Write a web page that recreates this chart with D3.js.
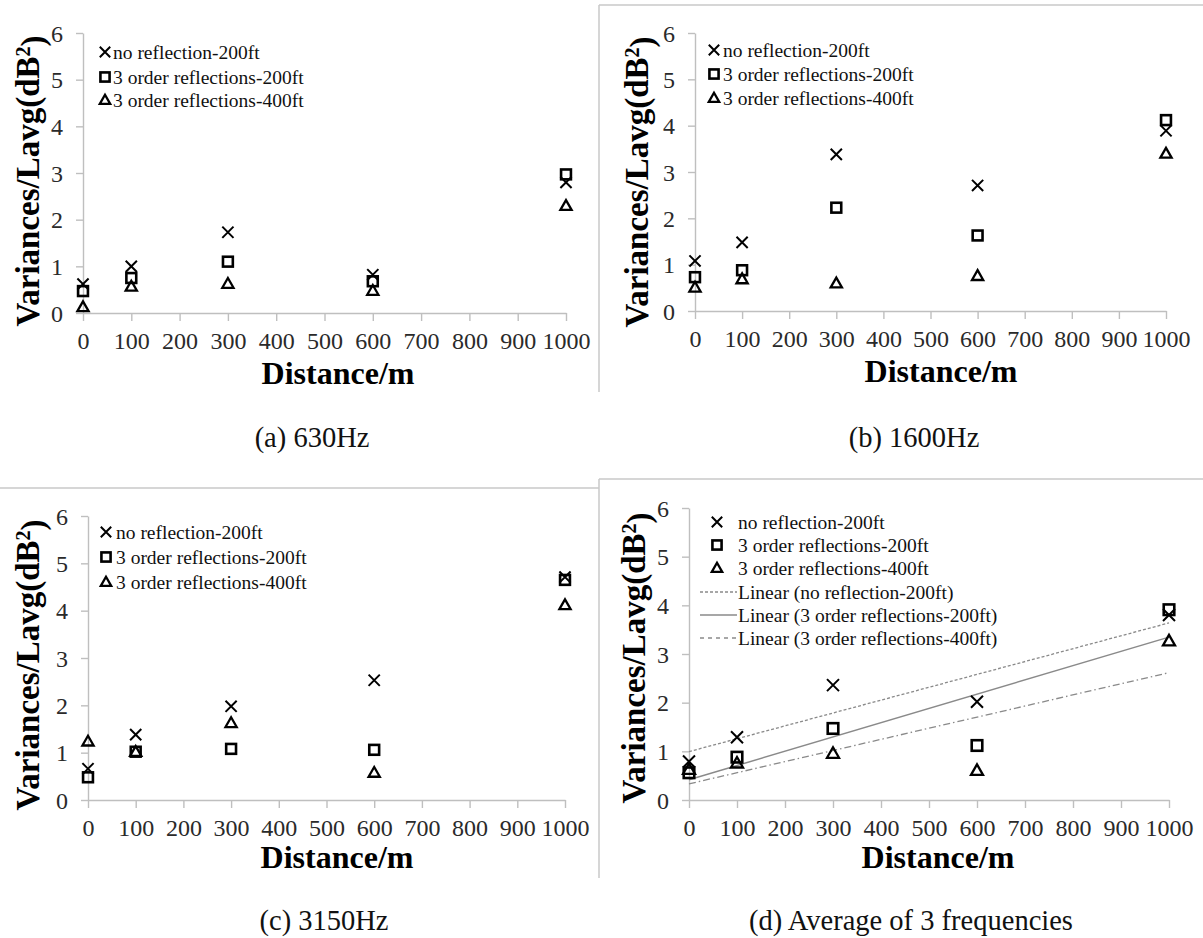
<!DOCTYPE html>
<html>
<head>
<meta charset="utf-8">
<script src="https://cdn.jsdelivr.net/npm/d3@7"></script>
<style>
  html, body { margin: 0; padding: 0; background: #fff; }
  svg { display: block; }
  text { font-family: "Liberation Serif", "Times New Roman", serif; }
</style>
</head>
<body>
<svg id="chart" width="1203" height="938"></svg>
<script>
// ---------------- DATA ----------------
const distances = [0, 100, 300, 600, 1000];
const xTickValues = [0, 100, 200, 300, 400, 500, 600, 700, 800, 900, 1000];
const yTickValues = [0, 1, 2, 3, 4, 5, 6];
const seriesNames = ["no reflection-200ft", "3 order reflections-200ft", "3 order reflections-400ft"];
const trendNames = ["Linear (no reflection-200ft)", "Linear (3 order reflections-200ft)", "Linear (3 order reflections-400ft)"];
const captions = ["(a) 630Hz", "(b) 1600Hz", "(c) 3150Hz", "(d) Average of 3 frequencies"];
const xTitle = "Distance/m";

// 630 Hz
const noRefl630   = [0.62, 1.00, 1.73, 0.82, 2.80];
const refl200_630 = [0.47, 0.75, 1.10, 0.68, 2.97];
const refl400_630 = [0.13, 0.57, 0.63, 0.48, 2.30];
// 1600 Hz
const noRefl1600   = [1.08, 1.48, 3.38, 2.71, 3.89];
const refl200_1600 = [0.73, 0.88, 2.23, 1.63, 4.12];
const refl400_1600 = [0.51, 0.69, 0.60, 0.76, 3.40];
// 3150 Hz
const noRefl3150   = [0.66, 1.38, 1.98, 2.53, 4.71];
const refl200_3150 = [0.48, 1.02, 1.08, 1.06, 4.65];
const refl400_3150 = [1.24, 1.02, 1.63, 0.58, 4.12];
// Average of 3 frequencies
const noReflAvg   = [0.79, 1.29, 2.36, 2.02, 3.80];
const refl200Avg  = [0.56, 0.88, 1.47, 1.12, 3.91];
const refl400Avg  = [0.63, 0.76, 0.96, 0.61, 3.27];

// ---------------- LAYOUT ----------------
const panels = [
  { series: [noRefl630, refl200_630, refl400_630], trend: false,
    x0: 83, x1: 566, yb: 313, yt: 33,
    leg: { sx: 105, tx: 113, ys: [52, 77, 100] },
    yT: { x: 27, y: 181 }, xT: { x: 338, y: 384 }, cap: { x: 312, y: 447 } },
  { series: [noRefl1600, refl200_1600, refl400_1600], trend: false,
    x0: 695, x1: 1166, yb: 311, yt: 33,
    leg: { sx: 714, tx: 723, ys: [50, 74, 98] },
    yT: { x: 636, y: 182 }, xT: { x: 941, y: 382 }, cap: { x: 914, y: 447 } },
  { series: [noRefl3150, refl200_3150, refl400_3150], trend: false,
    x0: 88, x1: 565, yb: 800, yt: 516,
    leg: { sx: 106, tx: 116, ys: [532, 557, 582] },
    yT: { x: 27, y: 665 }, xT: { x: 337, y: 868 }, cap: { x: 324, y: 930 } },
  { series: [noReflAvg, refl200Avg, refl400Avg], trend: true,
    x0: 689, x1: 1169, yb: 800, yt: 508,
    leg: { sx: 717, tx: 738, ys: [522, 545, 568, 592, 615, 638], lx0: 700, lx1: 737 },
    yT: { x: 633, y: 658 }, xT: { x: 938, y: 868 }, cap: { x: 911, y: 930 } }
];

const AXIS = "#bfbfbf";
const BORDER = "#c8c8c8";
const TREND = "#8a8a8a";
const trendDash = ["3,2", null, "7,3,1.5,3"];

const svg = d3.select("#chart");

// Panel borders
const borders = [
  [599, 5, 1203, 5], [599, 5, 599, 392],
  [0, 488, 599, 488], [599, 479, 1203, 479], [599, 479, 599, 878]
];
svg.append("g").selectAll("line").data(borders).join("line")
  .attr("x1", d => d[0]).attr("y1", d => d[1]).attr("x2", d => d[2]).attr("y2", d => d[3])
  .attr("stroke", BORDER).attr("stroke-width", 1.5);

function drawMarker(g, type, x, y, s) {
  if (type === 0) {
    g.append("path")
      .attr("d", `M${x - s},${y - s}L${x + s},${y + s}M${x - s},${y + s}L${x + s},${y - s}`)
      .attr("stroke", "#000").attr("stroke-width", 2).attr("fill", "none");
  } else if (type === 1) {
    const h = s * 0.88;
    g.append("rect").attr("x", x - h).attr("y", y - h).attr("width", 2 * h).attr("height", 2 * h)
      .attr("stroke", "#000").attr("stroke-width", 2.6).attr("fill", "none");
  } else {
    const h = s;
    g.append("path")
      .attr("d", `M${x},${y - h}L${x + h},${y + h * 0.75}L${x - h},${y + h * 0.75}Z`)
      .attr("stroke", "#000").attr("stroke-width", 2.3).attr("fill", "none").attr("stroke-linejoin", "miter");
  }
}

function linFit(xs, ys) {
  const mx = d3.mean(xs), my = d3.mean(ys);
  let sxy = 0, sxx = 0;
  xs.forEach((x, i) => { sxy += (x - mx) * (ys[i] - my); sxx += (x - mx) * (x - mx); });
  const b = sxy / sxx;
  return { a: my - b * mx, b };
}

const fmt = d3.format("d");

panels.forEach((p, pi) => {
  const g = svg.append("g");
  const x = d3.scaleLinear().domain([0, 1000]).range([p.x0, p.x1]);
  const y = d3.scaleLinear().domain([0, 6]).range([p.yb, p.yt]);

  // y axis
  const ya = g.append("g").attr("transform", `translate(${p.x0},0)`)
    .call(d3.axisLeft(y).tickValues(yTickValues).tickFormat(fmt).tickSize(7).tickSizeOuter(0).tickPadding(13));
  // x axis
  const xa = g.append("g").attr("transform", `translate(0,${p.yb})`)
    .call(d3.axisBottom(x).tickValues(xTickValues).tickFormat(fmt).tickSize(8).tickSizeOuter(0).tickPadding(11));
  [ya, xa].forEach(a => {
    a.select(".domain").attr("stroke", AXIS).attr("stroke-width", 1.4);
    a.selectAll(".tick line").attr("stroke", AXIS).attr("stroke-width", 1.4);
    a.selectAll(".tick text").attr("fill", "#2a2a2a").style("font-size", "24px")
      .style("font-family", '"Liberation Serif", "Times New Roman", serif');
  });
  ya.selectAll(".tick text").attr("dy", "0.34em");
  xa.selectAll(".tick text").attr("dy", "0.72em");

  // trend lines
  if (p.trend) {
    p.series.forEach((vals, si) => {
      const f = linFit(distances, vals);
      const ln = g.append("line")
        .attr("x1", x(0)).attr("y1", y(f.a))
        .attr("x2", x(1000)).attr("y2", y(f.a + f.b * 1000))
        .attr("stroke", TREND).attr("stroke-width", si === 1 ? 1.5 : 1.3);
      if (trendDash[si]) ln.attr("stroke-dasharray", trendDash[si]);
    });
  }

  // markers
  const ms = p.trend ? 6 : 5.6;
  p.series.forEach((vals, si) => {
    vals.forEach((v, i) => drawMarker(g, si, x(distances[i]), y(v), ms));
  });

  // legend
  seriesNames.forEach((name, si) => {
    const ly = p.leg.ys[si];
    drawMarker(g, si, p.leg.sx, ly, 5.2);
    g.append("text").attr("x", p.leg.tx).attr("y", ly).attr("dy", "0.34em")
      .style("font-size", "19.5px").attr("fill", "#111").text(name);
  });
  if (p.trend) {
    trendNames.forEach((name, ti) => {
      const ly = p.leg.ys[3 + ti];
      const ln = g.append("line").attr("x1", p.leg.lx0).attr("x2", p.leg.lx1)
        .attr("y1", ly).attr("y2", ly).attr("stroke", TREND).attr("stroke-width", 1.3);
      if (trendDash[ti]) ln.attr("stroke-dasharray", ti === 2 ? "4,4" : "3,2");
      g.append("text").attr("x", p.leg.tx).attr("y", ly).attr("dy", "0.34em")
        .style("font-size", "19.5px").attr("fill", "#111").text(name);
    });
  }

  // y title
  const yt = g.append("text")
    .attr("transform", `translate(${p.yT.x},${p.yT.y}) rotate(-90)`)
    .attr("text-anchor", "middle").attr("dy", "0.35em")
    .style("font-size", "33px").style("font-weight", "bold").attr("fill", "#000");
  yt.append("tspan").text("Variances/Lavg(dB");
  yt.append("tspan").attr("dy", "-0.45em").style("font-size", "20px").text("2");
  yt.append("tspan").attr("dy", "0.45em").text(")");

  // x title
  g.append("text").attr("x", p.xT.x).attr("y", p.xT.y).attr("text-anchor", "middle")
    .style("font-size", "32px").style("font-weight", "bold").attr("fill", "#000").text(xTitle);

  // caption
  g.append("text").attr("x", p.cap.x).attr("y", p.cap.y).attr("text-anchor", "middle")
    .style("font-size", "28.5px").attr("fill", "#111").text(captions[pi]);
});
</script>
</body>
</html>
